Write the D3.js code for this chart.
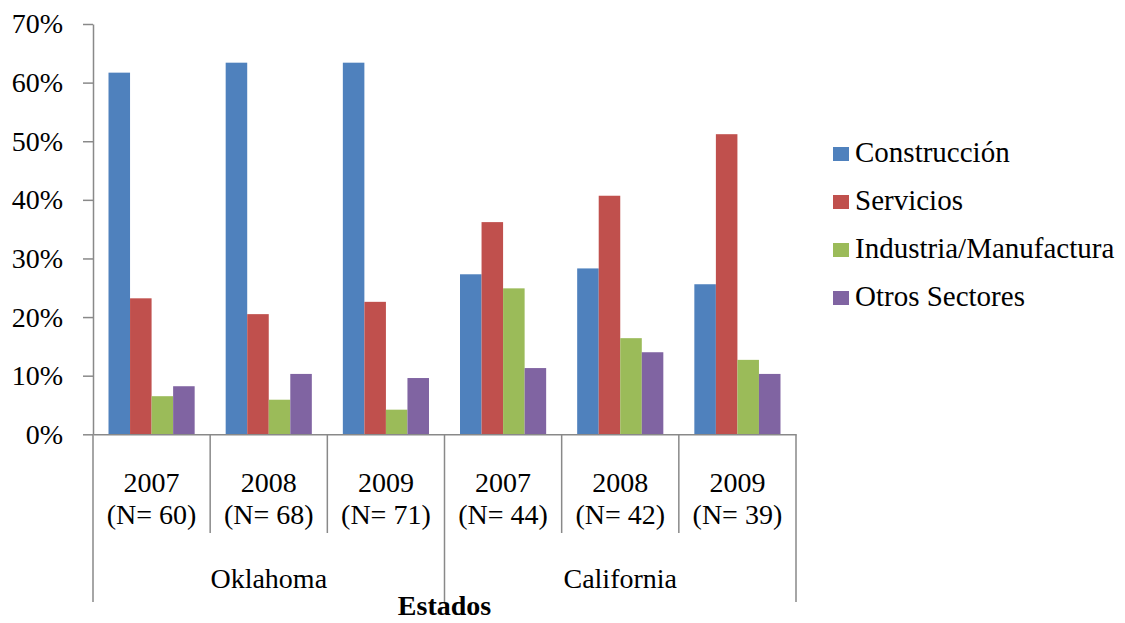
<!DOCTYPE html>
<html>
<head>
<meta charset="utf-8">
<script src="https://cdn.jsdelivr.net/npm/d3@7"></script>
<style>
  body { margin: 0; background: #fff; }
  svg { display: block; }
  svg text { font-family: "Liberation Serif", "DejaVu Serif", serif; }
  .axis path, .axis line { stroke: #898989; stroke-width: 1.5; }
</style>
</head>
<body>
<script>
var years = ["2007", "2008", "2009", "2007", "2008", "2009"];
var nLabels = ["(N= 60)", "(N= 68)", "(N= 71)", "(N= 44)", "(N= 42)", "(N= 39)"];
var states = ["Oklahoma", "California"];
var seriesNames = ["Construcción", "Servicios", "Industria/Manufactura", "Otros Sectores"];
var construccion = [61.7, 63.4, 63.4, 27.3, 28.3, 25.6];
var servicios = [23.2, 20.5, 22.6, 36.2, 40.7, 51.2];
var industria = [6.5, 5.9, 4.2, 24.9, 16.4, 12.7];
var otros = [8.2, 10.3, 9.6, 11.3, 14.0, 10.3];
var yTicks = [0, 10, 20, 30, 40, 50, 60, 70];
var colors = ["#4F81BD", "#C0504D", "#9BBB59", "#8064A2"];

var series = [construccion, servicios, industria, otros];
var width = 1125, height = 623;
var plotLeft = 93, plotRight = 796, plotTop = 24, plotBottom = 434.3;
var serif = "Liberation Serif, DejaVu Serif, serif";

var svg = d3.select("body").append("svg")
    .attr("width", width)
    .attr("height", height)
    .attr("font-family", serif);

var idx = d3.range(years.length);

var x0 = d3.scaleBand()
    .domain(idx)
    .range([plotLeft, plotRight])
    .padding(0);

var x1 = d3.scaleBand()
    .domain(d3.range(series.length))
    .range([0, x0.bandwidth()])
    .paddingInner(0)
    .paddingOuter(0.72);

var y = d3.scaleLinear()
    .domain([0, 70])
    .range([plotBottom, plotTop]);

// axis-y
var yAxis = svg.append("g")
    .attr("class", "axis")
    .attr("transform", "translate(" + plotLeft + ",0)")
    .call(d3.axisLeft(y).tickValues(yTicks).tickSize(10).tickSizeOuter(0).tickPadding(20)
      .tickFormat(function(d) { return d + "%"; }));
yAxis.attr("font-family", serif);
yAxis.selectAll("text")
    .attr("font-size", "28px")
    .attr("fill", "#000");

// bars
var groups = svg.selectAll("g.grp")
    .data(idx)
    .enter().append("g")
    .attr("class", "grp")
    .attr("transform", function(i) { return "translate(" + x0(i) + ",0)"; });

groups.selectAll("rect")
    .data(function(i) { return series.map(function(s, k) { return {k: k, v: s[i]}; }); })
    .enter().append("rect")
    .attr("x", function(d) { return x1(d.k); })
    .attr("y", function(d) { return y(d.v); })
    .attr("width", x1.bandwidth())
    .attr("height", function(d) { return y(0) - y(d.v); })
    .attr("fill", function(d) { return colors[d.k]; });

// axis-x
svg.append("g")
    .attr("class", "axis")
    .attr("transform", "translate(0," + plotBottom + ")")
    .call(d3.axisBottom(x0).tickSize(0).tickFormat(""));

// category dividers
var edges = d3.range(years.length + 1).map(function(i) {
  return i < years.length ? x0(i) : x0(years.length - 1) + x0.step();
});
svg.append("g")
    .attr("class", "axis")
    .selectAll("line")
    .data(edges)
    .enter().append("line")
    .attr("x1", function(d) { return d; })
    .attr("x2", function(d) { return d; })
    .attr("y1", plotBottom)
    .attr("y2", function(d, i) { return i % 3 === 0 ? 602 : 533; });

var catText = svg.append("g")
    .attr("font-size", "28px")
    .attr("text-anchor", "middle")
    .attr("fill", "#000");

catText.selectAll("text.yr")
    .data(idx)
    .enter().append("text")
    .attr("x", function(i) { return x0(i) + x0.bandwidth() / 2; })
    .attr("y", 492)
    .text(function(i) { return years[i]; });

catText.selectAll("text.n")
    .data(idx)
    .enter().append("text")
    .attr("x", function(i) { return x0(i) + x0.bandwidth() / 2; })
    .attr("y", 524)
    .text(function(i) { return nLabels[i]; });

catText.selectAll("text.st")
    .data(states)
    .enter().append("text")
    .attr("x", function(d, i) { return (edges[i * 3] + edges[i * 3 + 3]) / 2; })
    .attr("y", 588)
    .text(function(d) { return d; });

svg.append("text")
    .attr("x", (plotLeft + plotRight) / 2)
    .attr("y", 615)
    .attr("text-anchor", "middle")
    .attr("font-size", "28px")
    .attr("font-weight", "bold")
    .text("Estados");

// legend
var legend = svg.append("g")
    .selectAll("g")
    .data(seriesNames)
    .enter().append("g")
    .attr("transform", function(d, i) { return "translate(833," + (154 + i * 48) + ")"; });

legend.append("rect")
    .attr("x", 0)
    .attr("y", -7)
    .attr("width", 16)
    .attr("height", 14)
    .attr("fill", function(d, i) { return colors[i]; });

legend.append("text")
    .attr("x", 22)
    .attr("y", 8)
    .attr("font-size", "29px")
    .text(function(d) { return d; });
</script>
</body>
</html>
